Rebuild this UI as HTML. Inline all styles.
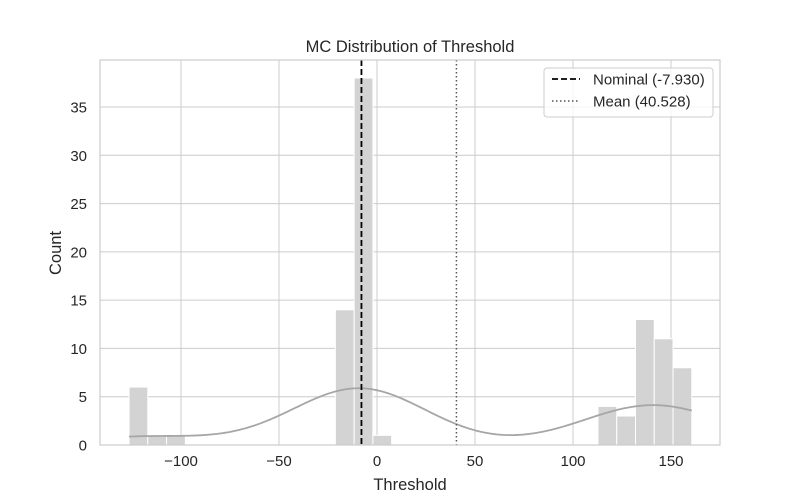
<!DOCTYPE html>
<html><head><meta charset="utf-8"><style>
body{margin:0;background:#fff;}
svg{display:block;font-family:"Liberation Sans","DejaVu Sans",sans-serif;}
</style></head><body>
<svg id="chart" width="800" height="500">
<rect width="800" height="500" fill="#fff"/>
<g id="grid"></g><g id="bars"></g><g id="kde"></g><g id="lines"></g><g id="axes"></g>
<text x="410" y="52" text-anchor="middle" font-size="16.5" fill="#262626">MC Distribution of Threshold</text>
<text x="410" y="490" text-anchor="middle" font-size="16.5" fill="#262626">Threshold</text>
<text transform="translate(61,253) rotate(-90)" text-anchor="middle" font-size="16.5" fill="#262626">Count</text>
<g>
<rect x="544" y="68" width="169" height="49" rx="3" fill="#fff" fill-opacity="0.8" stroke="#ccc"/>
<line x1="552" y1="79" x2="580" y2="79" stroke="#000" stroke-width="1.8" stroke-dasharray="6,3"/>
<text x="593" y="84.5" font-size="15" fill="#262626">Nominal (-7.930)</text>
<line x1="552" y1="101" x2="580" y2="101" stroke="#555" stroke-width="1.5" stroke-dasharray="1.5,2.5"/>
<text x="593" y="106.5" font-size="15" fill="#262626">Mean (40.528)</text>
</g>
</svg>
<script>
const binStart = -126.5;
const binWidth = 9.57;
const counts = [6,1,1,0,0,0,0,0,0,0,0,14,38,1,0,0,0,0,0,0,0,0,0,0,0,4,3,13,11,8];
const xTicks = [-100,-50,0,50,100,150];
const yTicks = [0,5,10,15,20,25,30,35];
const nominal = -7.93;
const meanVal = 40.528;

const L=100,R=720,T=60,B=445;
const xs = v => 377 + v*1.96;
const ys = v => 445 - v*9.657;
const NS="http://www.w3.org/2000/svg";
function mk(tag, parent, attrs){const e=document.createElementNS(NS,tag);for(const k in attrs)e.setAttribute(k,attrs[k]);document.getElementById(parent).appendChild(e);return e;}

xTicks.forEach(t=>{
  const g=mk('line','grid',{x1:xs(t),x2:xs(t),y1:T,y2:B,stroke:'#cccccc','stroke-width':1});
  
  
  const tx=mk('text','axes',{x:xs(t),y:B+21,'text-anchor':'middle','font-size':15,fill:'#262626'});
  tx.textContent = t<0 ? '\u2212'+Math.abs(t) : String(t);
  
  
});
yTicks.forEach(t=>{
  const g=mk('line','grid',{x1:L,x2:R,y1:ys(t),y2:ys(t),stroke:'#cccccc','stroke-width':1});
  
  
  const tx=mk('text','axes',{x:L-13,y:ys(t)+5.5,'text-anchor':'end','font-size':15,fill:'#262626'});
  tx.textContent=String(t);
  
  
});
counts.forEach((c,i)=>{
  if(!c) return;
  const x0=xs(binStart+i*binWidth), x1=xs(binStart+(i+1)*binWidth);
  const r=mk('rect','bars',{x:x0,y:ys(c),width:x1-x0,height:ys(0)-ys(c),fill:'#d3d3d3',stroke:'#fff','stroke-width':1});
  
  
});
const pts=[];counts.forEach((c,i)=>{for(let k=0;k<c;k++)pts.push(binStart+(i+0.5)*binWidth);});
const n=pts.length, mu=pts.reduce((a,b)=>a+b,0)/n;
const sd=Math.sqrt(pts.reduce((a,b)=>a+(b-mu)**2,0)/(n-1));
const h=sd*Math.pow(n,-0.2);
const lo=binStart, hi=binStart+counts.length*binWidth;
let d='';
for(let s=0;s<=200;s++){
  const x=lo+(hi-lo)*s/200;
  let dens=0;pts.forEach(p=>{dens+=Math.exp(-0.5*((x-p)/h)**2);});
  dens=dens/(n*h*Math.sqrt(2*Math.PI));
  const y=dens*n*binWidth;
  d+=(s?'L':'M')+xs(x).toFixed(2)+','+ys(y).toFixed(2);
}
const kp=mk('path','kde',{d:d,fill:'none',stroke:'#a6a6a6','stroke-width':1.8});


const nl=mk('line','lines',{x1:xs(nominal),x2:xs(nominal),y1:T,y2:B,stroke:'#000','stroke-width':1.8,'stroke-dasharray':'6,3'});


const ml=mk('line','lines',{x1:xs(meanVal),x2:xs(meanVal),y1:T,y2:B,stroke:'#555','stroke-width':1.5,'stroke-dasharray':'1.5,2.5'});


const fr=mk('rect','axes',{x:L,y:T,width:R-L,height:B-T,fill:'none',stroke:'#cccccc','stroke-width':1.2});


</script>
</body></html>
